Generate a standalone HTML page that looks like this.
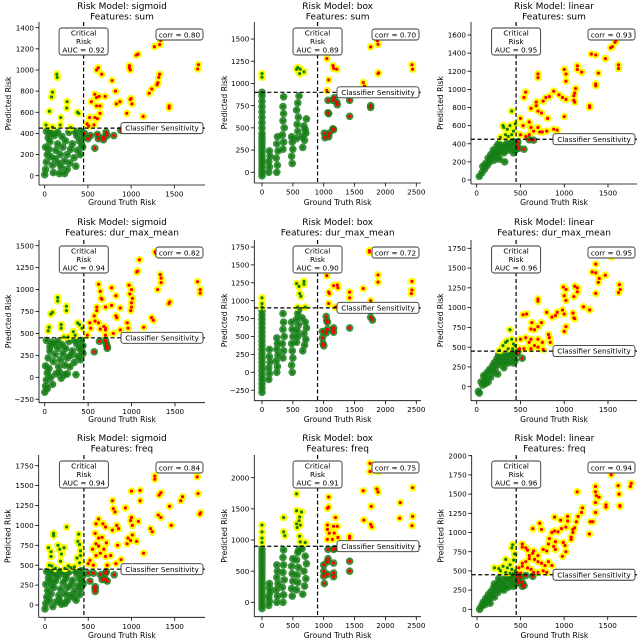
<!DOCTYPE html>
<html><head><meta charset="utf-8"><style>
html,body{margin:0;padding:0;background:#fff;}
svg{display:block;font-family:"DejaVu Sans","Liberation Sans",sans-serif;}
</style></head><body>
<svg id="fig" width="640" height="639" viewBox="0 0 640 639" xmlns="http://www.w3.org/2000/svg"></svg>
<script>
// ---- data: [ground truth risk, predicted risk] ----
const sigmoidSumPoints = [[0,10],[10,60],[20,130],[30,200],[10,270],[40,360],[60,400],[80,420],[50,250],[70,180],[90,100],[100,30],[120,160],[130,240],[150,300],[160,120],[180,200],[190,80],[200,370],[210,270],[230,140],[240,330],[260,200],[260,60],[280,410],[290,120],[300,250],[320,300],[340,170],[360,90],[370,380],[380,240],[400,330],[410,200],[420,420],[430,290],[440,360],[440,270],[350,420],[150,410],[110,380],[60,320],[20,420],[170,20],[230,20],
[140,960],[145,930],[90,790],[80,745],[55,610],[260,700],[255,640],[185,550],[380,600],[395,590],[15,480],[180,480],[90,460],[300,455],
[1340,1280],[1270,1220],[1330,1240],[1080,1150],[1060,1140],[1780,1050],[1770,1010],[980,1040],[990,1000],[980,1020],[600,1000],[620,1020],[660,960],[1330,960],[1320,930],[780,900],[1310,880],[1300,860],[820,800],[1240,820],[1210,780],[580,770],[600,740],[700,750],[630,750],[1000,730],[990,720],[1010,680],[540,700],[600,660],[640,660],[830,680],[870,700],[1440,660],[1440,640],[950,590],[640,590],[520,550],[610,540],[580,550],[1140,560],[490,490],[570,480],[510,470],
[460,400],[530,380],[610,390],[620,350],[680,360],[710,410],[720,380],[800,380],[580,260],[680,340],[880,430],[500,350]];
const boxSumPoints = [[0,-40],[0,0],[0,40],[0,80],[0,120],[0,160],[0,200],[0,240],[0,280],[0,320],[0,360],[0,400],[0,440],[0,500],[0,560],[0,620],[0,680],[0,740],[0,800],[0,860],
[110,0],[120,60],[110,120],[130,180],[120,240],[240,0],[250,80],[230,160],[260,240],[240,320],[250,400],[340,260],[350,340],[330,420],[360,500],[340,580],[350,660],[340,740],[350,850],[490,100],[480,180],[500,260],[490,340],[480,400],[560,380],[580,460],[570,540],[590,620],[560,700],[580,780],[600,860],[660,280],[690,360],[710,440],[680,520],[720,600],[700,480],[650,400],
[0,1110],[0,1070],[0,900],[560,1160],[580,1180],[620,1160],[610,1110],[680,1130],
[1050,1280],[1150,1200],[1160,1170],[1210,1160],[1080,1040],[1050,920],[1760,1410],[1870,1480],[1880,1440],[1890,1120],[1880,1110],[2430,1210],[2440,1160],[1640,1010],[1660,970],
[1070,810],[1150,810],[1170,840],[1220,760],[1210,790],[1420,810],[1760,750],[1760,730],[1070,670],[1080,660],[1420,630],[1150,490],[1160,480],[1010,440],[1020,390],[1090,440],[1080,400]];
const linearSumPoints = [[30,40],[60,80],[70,150],[90,120],[100,180],[120,160],[130,240],[150,200],[160,280],[180,260],[190,330],[200,220],[210,300],[230,370],[240,280],[250,340],[260,230],[280,320],[300,380],[310,300],[320,200],[330,360],[350,410],[360,330],[380,390],[400,350],[410,430],[430,400],[440,330],[420,300],[250,400],
[300,600],[310,580],[400,760],[350,560],[380,600],[420,540],[270,470],[440,620],[330,500],[400,500],[360,480],
[1590,1540],[1580,1520],[1550,1470],[1530,1460],[1310,1390],[1360,1380],[1470,1340],[1620,1270],[1620,1230],[1150,1260],[1150,1220],[1200,1190],[700,1170],[700,1130],[1000,1220],[1020,1170],[1020,1090],[1390,1180],[1360,1060],[1360,1040],[560,970],[540,910],[880,980],[830,920],[940,940],[980,910],[1020,890],[1130,1010],[1120,960],[1110,930],[1110,880],[1120,860],[680,860],[760,870],[790,910],[680,820],[620,790],[700,760],[740,740],[810,680],[1000,700],[1290,820],[1290,800],[500,680],[530,600],[600,640],[620,580],[700,580],[880,560],[920,550],[720,530],[750,530],[500,500],[560,480],[600,500],[650,540],[800,540],
[460,380],[480,350],[540,340],[470,420],[650,440],[600,445]];
const sigmoidDurPoints = [[0,-170],[10,-100],[20,-30],[30,50],[10,130],[40,220],[60,300],[80,400],[50,100],[70,0],[90,-80],[100,180],[120,260],[130,40],[150,330],[160,120],[180,200],[190,-10],[200,370],[210,270],[230,140],[240,330],[260,220],[260,40],[280,410],[290,120],[300,250],[320,300],[340,170],[360,30],[370,380],[380,240],[400,330],[410,200],[420,420],[430,290],[440,360],[440,270],[350,420],[150,410],[110,380],[60,350],[20,420],[170,60],[230,30],[30,-130],
[150,910],[150,870],[250,810],[250,760],[90,740],[70,720],[50,570],[40,530],[190,600],[190,560],[330,520],[380,620],[400,600],[430,560],[270,460],[350,480],[220,460],
[1270,1430],[1280,1410],[1090,1340],[1070,1210],[1060,1200],[1330,1170],[1340,1130],[1340,1080],[1760,1090],[1790,1000],[1790,960],[1300,1000],[620,1060],[640,980],[660,890],[650,900],[770,1020],[820,930],[970,1050],[1000,1000],[980,950],[1010,900],[1000,850],[1000,800],[990,760],[770,820],[820,700],[830,680],[870,790],[1440,860],[1430,840],[1230,680],[1250,650],[600,800],[600,760],[570,700],[580,640],[620,620],[700,800],[680,580],[700,560],[520,620],[530,560],[640,550],[700,540],[950,620],[960,560],[870,540],[1140,570],[790,500],[700,480],[490,480],
[630,410],[700,420],[710,380],[720,350],[570,290],[720,330]];
const boxDurPoints = [[0,-280],[0,-220],[0,-160],[0,-100],[0,-40],[0,20],[0,80],[0,140],[0,200],[0,260],[0,320],[0,380],[0,440],[0,500],[0,560],[0,620],[0,680],[0,740],[0,800],[0,860],
[110,-100],[120,-20],[110,60],[130,140],[120,220],[120,320],[240,0],[250,80],[230,160],[260,240],[240,320],[250,400],[240,480],[340,200],[350,300],[330,400],[360,500],[340,600],[350,700],[340,820],[490,0],[480,100],[500,200],[490,300],[480,400],[500,500],[490,600],[480,700],[560,420],[580,500],[570,580],[590,660],[560,740],[580,820],[600,880],[660,300],[690,380],[710,460],[680,540],[720,620],[700,700],[650,760],
[0,1040],[0,960],[0,910],[560,1240],[600,1200],[610,1100],[630,1060],[680,1270],[680,1230],[580,910],[700,910],
[1740,1700],[1740,1680],[1050,1350],[1160,1210],[1220,1220],[1230,1180],[1080,1120],[1090,1100],[1420,1120],[1420,1040],[1640,1170],[1880,1360],[1880,1260],[2430,1270],[2430,1150],[2420,1100],[1760,1000],[1080,960],[1190,910],
[1040,780],[1050,720],[1060,700],[1160,620],[1150,590],[1420,620],[1760,770],[1790,730],[980,570],[1040,550],[980,480],[990,400],[1000,370],[1060,600],[1160,560]];
const linearDurPoints = [[20,-60],[30,-80],[50,60],[70,20],[80,140],[100,100],[120,180],[130,60],[150,220],[160,120],[180,260],[190,180],[200,300],[210,230],[230,350],[240,160],[250,280],[260,370],[280,300],[300,340],[310,240],[320,400],[330,310],[350,380],[360,300],[380,420],[400,350],[410,430],[430,400],[440,330],[420,300],[250,400],[100,40],
[300,520],[330,560],[350,580],[380,720],[400,600],[420,540],[260,460],[360,480],[410,480],[440,520],
[1540,1640],[1360,1550],[1320,1450],[1360,1440],[1470,1410],[1400,1370],[1390,1320],[1630,1290],[1640,1230],[1620,1190],[1360,1180],[1150,1250],[1150,1200],[1120,1270],[990,1260],[1020,1230],[1000,1150],[1020,1090],[1110,1140],[700,1110],[700,1080],[1220,1010],[980,970],[1000,920],[920,940],[860,880],[800,940],[900,900],[1110,870],[1120,860],[1100,930],[530,910],[570,920],[1290,970],[740,810],[630,810],[700,760],[660,720],[620,730],[820,660],[1020,760],[1000,700],[830,620],[560,620],[500,600],[620,600],[700,600],[750,560],[840,560],[600,560],[660,520],[700,500],[490,480],[540,480],[760,470],[620,480],
[520,360],[455,420],[470,440]];
const sigmoidFreqPoints = [[0,-50],[10,20],[20,100],[30,180],[10,260],[40,340],[60,400],[80,430],[50,60],[70,140],[90,-20],[100,220],[120,300],[130,40],[150,360],[160,120],[180,200],[190,10],[200,400],[210,280],[230,140],[240,330],[260,220],[260,60],[280,420],[290,120],[300,250],[320,310],[340,170],[360,60],[370,390],[380,240],[400,330],[410,200],[420,430],[430,290],[440,370],[440,260],[350,430],[150,430],[110,380],[60,310],[20,420],[170,60],[230,20],[330,100],[400,130],[250,380],[80,250],
[250,980],[100,900],[100,870],[40,720],[70,670],[70,610],[150,750],[170,700],[220,720],[190,640],[180,550],[390,890],[380,800],[400,760],[410,680],[410,620],[370,590],[400,530],[80,490],[50,500],[270,490],[300,470],[120,460],[230,460],[340,480],
[1760,1610],[1770,1400],[1800,1160],[1790,1140],[1270,1620],[1270,1580],[1340,1410],[1320,1380],[1590,1360],[1570,1310],[1440,1240],[1310,1130],[1340,1100],[1000,1430],[1100,1440],[1100,1310],[780,1310],[790,1210],[810,1170],[930,1220],[1000,1100],[990,1060],[1010,1000],[1080,1050],[1220,960],[1240,920],[1460,1000],[620,1080],[590,1020],[670,1020],[700,980],[780,940],[830,1000],[850,960],[1010,880],[960,840],[990,810],[1060,800],[580,900],[620,840],[660,850],[590,770],[620,740],[710,780],[680,700],[640,650],[700,610],[590,620],[550,700],[520,560],[760,620],[840,750],[950,770],[1140,650],[880,570],[820,520],[560,500],[500,520],[720,500],
[500,400],[560,400],[640,380],[700,400],[700,320],[660,320],[720,300],[520,300],[580,230],[580,210],[580,170],[800,380],[710,420]];
const boxFreqPoints = [[0,-100],[0,-40],[0,20],[0,80],[0,140],[0,200],[0,260],[0,320],[0,380],[0,440],[0,500],[0,560],[0,620],[0,680],[0,740],[0,800],[0,860],
[110,-50],[120,20],[110,90],[130,160],[120,230],[120,300],[240,0],[250,100],[230,200],[260,300],[240,400],[250,500],[240,600],[340,0],[350,120],[330,240],[360,360],[340,480],[350,600],[340,720],[350,840],[490,100],[480,220],[500,340],[490,460],[480,580],[500,700],[560,200],[580,320],[570,440],[590,560],[560,680],[580,800],[600,850],[660,130],[690,260],[710,380],[680,500],[720,620],[700,740],[650,860],
[0,1240],[0,1130],[0,1030],[0,960],[560,1740],[560,1470],[640,1450],[610,1370],[600,1310],[560,1260],[570,1200],[620,1240],[350,1360],[350,1130],[370,1070],[610,1060],[620,970],[700,960],
[1750,2230],[1750,2100],[1890,2100],[1640,1790],[1860,1820],[1880,1770],[2440,1840],[2240,1600],[1770,1540],[1080,1690],[1060,1510],[1080,1530],[1190,1360],[2230,1350],[2440,1380],[2430,1230],[1650,1320],[1760,1250],[1780,1210],[1060,1240],[1160,1220],[1220,1220],[1060,1170],[1090,1110],[1170,1110],[1420,1060],[1420,1030],[1230,1040],[1060,1010],[1140,1010],
[1070,850],[1160,850],[1180,860],[1070,700],[1060,650],[1160,630],[1420,660],[1420,500],[1000,600],[1000,500],[1000,420],[1010,300],[1060,450],[1160,470],[1160,410]];
const linearFreqPoints = [[30,0],[50,40],[70,90],[90,60],[100,140],[120,110],[130,190],[150,150],[160,230],[180,200],[190,280],[200,160],[210,250],[230,320],[240,220],[250,290],[260,360],[280,270],[300,340],[310,250],[320,400],[330,300],[350,380],[360,290],[380,420],[400,350],[410,430],[430,400],[440,330],[420,300],[250,400],[200,330],[150,80],
[410,840],[400,800],[430,720],[420,640],[330,650],[200,540],[250,530],[270,500],[300,560],[350,540],[380,580],[400,520],[440,500],[330,480],[380,470],[420,470],
[1540,1750],[1770,1640],[1760,1600],[1620,1610],[1630,1500],[1640,1350],[1640,1340],[1150,1530],[1360,1600],[1360,1530],[1370,1480],[1400,1460],[1360,1390],[1360,1260],[1480,1360],[1480,1330],[1210,1320],[1200,1260],[1160,1210],[1140,1140],[1300,1140],[1330,1140],[1290,980],[890,1200],[960,1160],[1040,1210],[1040,1150],[1020,1070],[1100,1040],[1100,1000],[1120,1060],[970,1050],[930,1010],[890,1020],[860,1000],[720,1120],[640,1050],[740,1040],[830,920],[900,880],[990,870],[1010,830],[1080,940],[1080,910],[880,820],[820,850],[760,780],[800,760],[900,780],[980,690],[1020,750],[520,850],[520,810],[560,800],[580,770],[600,700],[600,660],[640,730],[650,760],[700,700],[660,650],[700,620],[740,600],[820,620],[860,570],[780,570],[560,620],[520,600],[480,540],[520,560],[580,540],[620,520],[650,480],[700,480],[760,500],[800,480],[460,480],[500,470],
[460,430],[500,420],[520,350],[520,300],[540,310],[470,380],[480,350],[640,430],[560,440]];

const modelNames = ["sigmoid","box","linear"];
const featureNames = ["sum","dur_max_mean","freq"];
const aucValues = ["0.92","0.89","0.95","0.94","0.90","0.96","0.94","0.91","0.96"];
const corrValues = ["0.80","0.70","0.93","0.82","0.72","0.95","0.84","0.75","0.94"];
const thresholds = [450,900,450,450,900,450,450,900,450];
const xTickSets = [[0,500,1000,1500],[0,500,1000,1500,2000,2500],[0,500,1000,1500]];
const yTickSets = [
 [0,200,400,600,800,1000,1200,1400],[0,250,500,750,1000,1250,1500],[0,200,400,600,800,1000,1200,1400,1600],
 [-250,0,250,500,750,1000,1250,1500],[-250,0,250,500,750,1000,1250,1500,1750],[0,250,500,750,1000,1250,1500,1750],
 [0,250,500,750,1000,1250,1500,1750],[0,500,1000,1500,2000],[0,250,500,750,1000,1250,1500,1750,2000]];
const panelPoints = [sigmoidSumPoints,boxSumPoints,linearSumPoints,sigmoidDurPoints,boxDurPoints,linearDurPoints,sigmoidFreqPoints,boxFreqPoints,linearFreqPoints];

// ---- layout (pixel geometry) ----
const geom = [
 {L:39,R:205,T:22,B:185, x:[0,44.7,1500,174.3], y:[0,175.7,1400,27.7]},
 {L:254.3,R:421,T:22,B:183, x:[0,262,2500,416.3], y:[0,172.3,1500,39]},
 {L:471,R:637,T:22,B:184, x:[0,476.7,1500,608], y:[0,180,1600,35]},
 {L:39,R:205,T:240,B:402.7, x:[0,44.7,1500,175], y:[0,377.3,1500,245.7]},
 {L:254.3,R:421,T:240,B:400.7, x:[0,262,2500,416.3], y:[0,372.3,1750,247]},
 {L:471,R:637,T:240,B:400.7, x:[0,476.7,1500,608], y:[0,386.7,1750,248.3]},
 {L:38.7,R:205,T:455,B:617.3, x:[0,45,1500,174.7], y:[0,605,1750,465.7]},
 {L:254.3,R:421,T:455,B:616.7, x:[0,262,2500,416.3], y:[0,602.3,2000,477.7]},
 {L:471.7,R:637,T:455,B:616.7, x:[0,477,1500,607.7], y:[0,609.3,2000,455.7]}];
const titleY = [9,225,441];
const xlabelY = [205,422,638];
const ylabelX = [11,227,443];

const NS="http://www.w3.org/2000/svg";
const svg=document.getElementById('fig');
function mk(tag,attrs,parent){const e=document.createElementNS(NS,tag);for(const k in attrs)e.setAttribute(k,attrs[k]);(parent||svg).appendChild(e);return e;}
function scale(d){return v=>d[1]+(v-d[0])*(d[3]-d[1])/(d[2]-d[0]);}

for(let i=0;i<9;i++){
  const r=Math.floor(i/3), c=i%3, g=geom[i];
  const sx=scale(g.x), sy=scale(g.y), thr=thresholds[i];
  const grp=mk('g',{});
  
  
  const cx=(g.L+g.R)/2;
  const t1=mk('text',{x:cx,y:titleY[r],'text-anchor':'middle','font-size':'9'},grp);
  t1.textContent='Risk Model: '+modelNames[c];
  
  
  const t2=mk('text',{x:cx,y:titleY[r]+10.5,'text-anchor':'middle','font-size':'9'},grp);
  t2.textContent='Features: '+featureNames[r];
  
  
  // points
  const pts=panelPoints[i];
  const outer=mk('g',{},grp);
  
  
  pts.forEach(p=>{const e=mk('circle',{cx:sx(p[0]),cy:sy(p[1]),r:3.8,fill:p[1]>thr?'#ffff00':'#1a7f1a','fill-opacity':p[1]>thr?1:0.85},outer);
    
    });
  const inner=mk('g',{},grp);
  
  
  pts.forEach(p=>{const e=mk('circle',{cx:sx(p[0]),cy:sy(p[1]),r:1.6,fill:p[0]>thr?'#ff0000':'#138013'},inner);
    
    });
  // threshold lines
  const vx=sx(thr), hy=sy(thr);
  const vl=mk('line',{x1:vx,x2:vx,y1:g.T,y2:g.B,stroke:'#000','stroke-width':1.2,'stroke-dasharray':'4,2.5'},grp);
  
  
  const hl=mk('line',{x1:g.L,x2:g.R,y1:hy,y2:hy,stroke:'#000','stroke-width':1.2,'stroke-dasharray':'4,2.5'},grp);
  
  
  // spines
  mk('line',{x1:g.L,x2:g.L,y1:g.T,y2:g.B,stroke:'#000','stroke-width':0.8},grp);
  mk('line',{x1:g.L,x2:g.R,y1:g.B,y2:g.B,stroke:'#000','stroke-width':0.8},grp);
  xTickSets[c].forEach(v=>{const x=sx(v);
    mk('line',{x1:x,x2:x,y1:g.B,y2:g.B+3.5,stroke:'#000','stroke-width':0.8},grp);
    const t=mk('text',{x:x,y:g.B+11.5,'text-anchor':'middle','font-size':'7.2'},grp);t.textContent=v;
    
    });
  yTickSets[i].forEach(v=>{const y=sy(v);
    mk('line',{x1:g.L-3.5,x2:g.L,y1:y,y2:y,stroke:'#000','stroke-width':0.8},grp);
    const t=mk('text',{x:g.L-5,y:y+2.6,'text-anchor':'end','font-size':'7.2'},grp);t.textContent=(v<0?'\u2212'+(-v):v);
    
    });
  const xl=mk('text',{x:cx,y:xlabelY[r],'text-anchor':'middle','font-size':'7.6'},grp);xl.textContent='Ground Truth Risk';
  
  
  const ym=(g.T+g.B)/2;
  const yl=mk('text',{x:0,y:0,'text-anchor':'middle','font-size':'7.6',transform:'translate('+(ylabelX[c]+g.L-(c==0?39:c==1?254.3:471))+','+ym+') rotate(-90)'},grp);yl.textContent='Predicted Risk';
  
  
  // critical risk box
  const cb=mk('g',{},grp);
  
  
  mk('rect',{x:vx-24.5,y:g.T+6,width:49,height:27,rx:2.5,fill:'#fff',stroke:'#333','stroke-width':0.9},cb);
  ['Critical','Risk','AUC = '+aucValues[i]].forEach((s,k)=>{const t=mk('text',{x:vx,y:g.T+13.5+k*8.6,'text-anchor':'middle','font-size':'7.3'},cb);t.textContent=s;});
  // corr box
  const co=mk('g',{},grp);
  
  
  mk('rect',{x:g.R-49,y:g.T+7,width:47,height:11,rx:2.5,fill:'#fff',stroke:'#333','stroke-width':0.9},co);
  const ct=mk('text',{x:g.R-25.5,y:g.T+15.3,'text-anchor':'middle','font-size':'7.3'},co);ct.textContent='corr = '+corrValues[i];
  // classifier sensitivity box
  const cs=mk('g',{},grp);
  
  
  mk('rect',{x:g.R-84,y:hy-5.5,width:82,height:11,rx:2.5,fill:'#fff',stroke:'#333','stroke-width':0.9},cs);
  const st=mk('text',{x:g.R-43,y:hy+2.6,'text-anchor':'middle','font-size':'7.3'},cs);st.textContent='Classifier Sensitivity';
}
</script>
</body></html>
